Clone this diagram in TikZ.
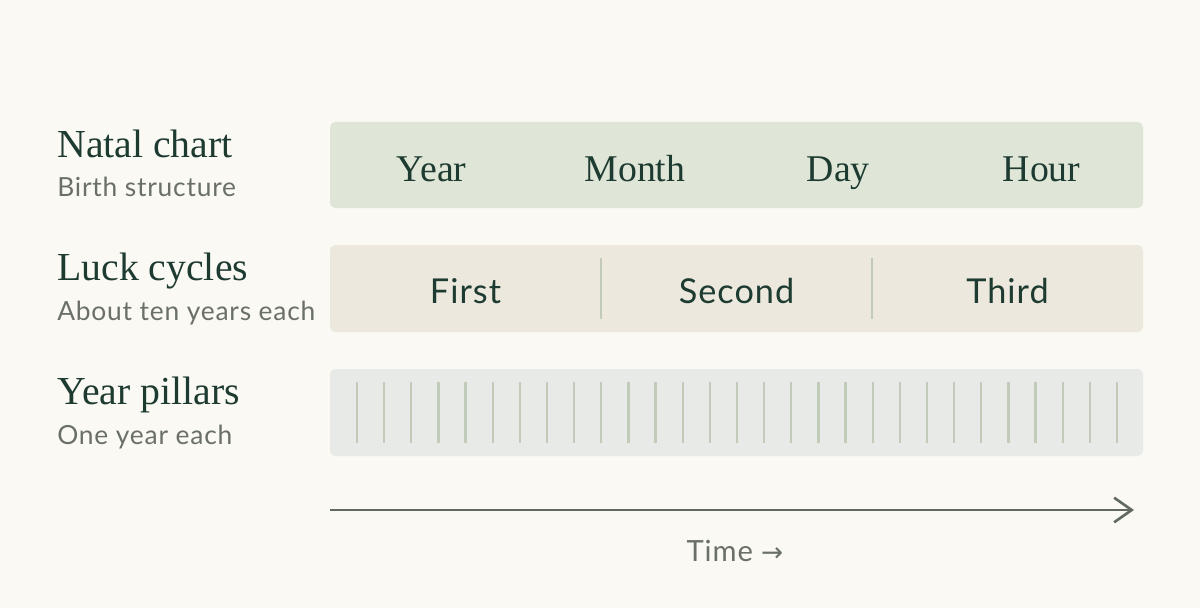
\documentclass[tikz,border=0pt]{standalone}
\usepackage{fontspec}
\setmainfont{Liberation Serif}
\setsansfont[LetterSpace=3]{Lato}
\newfontfamily\arrowfont{DejaVu Sans}
\usetikzlibrary{arrows.meta}

\definecolor{bgcol}{HTML}{FAF9F4}
\definecolor{natalcol}{HTML}{DFE5D7}
\definecolor{luckcol}{HTML}{ECE8DD}
\definecolor{pillarcol}{HTML}{E8EAE7}
\definecolor{tickcol}{HTML}{C2CBBA}
\definecolor{titlecol}{HTML}{1E3B31}
\definecolor{subcol}{HTML}{6A7068}
\definecolor{timecol}{HTML}{626A60}

\tikzset{
  rowtitle/.style={anchor=base west, inner sep=0pt, text=titlecol, font=\fontsize{22.6}{26}\selectfont},
  rowsub/.style={anchor=base west, inner sep=0pt, text=subcol, font=\sffamily\fontsize{15}{18}\selectfont},
  band/.style={rounded corners=3pt},
  natallabel/.style={anchor=base, inner sep=0pt, text=titlecol, font=\fontsize{21.5}{24}\selectfont},
  lucklabel/.style={anchor=base, inner sep=0pt, text=titlecol, font=\sffamily\fontsize{19.5}{24}\selectfont},
  divider/.style={draw=tickcol, line width=1.3pt},
}

\begin{document}
\begin{tikzpicture}[x=0.02cm, y=-0.02cm]
\fill[bgcol] (0,0) rectangle (1200,608);

% row titles
\node[rowtitle] (nataltitle) at (57,157) {Natal chart};
\node[rowsub] (natalsub) at (57,196) {Birth structure};
\node[rowtitle] (lucktitle) at (57,280) {Luck cycles};
\node[rowsub] (lucksub) at (57,320) {About ten years each};
\node[rowtitle] (pillartitle) at (57,404) {Year pillars};
\node[rowsub] (pillarsub) at (57,444) {One year each};

% natal chart band
\fill[natalcol, band] (330,122) rectangle (1143,208);
\node[natallabel] (year) at (431.6,181) {Year};
\node[natallabel] (month) at (635,181) {Month};
\node[natallabel] (day) at (838.4,181) {Day};
\node[natallabel] (hour) at (1041.6,181) {Hour};

% luck cycles band
\fill[luckcol, band] (330,245) rectangle (1143,332);
\node[lucklabel] (first) at (465.5,303) {First};
\node[lucklabel] (second) at (736.5,303) {Second};
\node[lucklabel] (third) at (1007.5,303) {Third};
\draw[divider] (601,258) -- (601,319);
\draw[divider] (872,258) -- (872,319);

% year pillars band
\fill[pillarcol, band] (330,369) rectangle (1143,456);
\foreach \i in {0,...,28}
  \draw[divider] (357+\i*27.143,382) -- (357+\i*27.143,443);

% time axis
\coordinate (tstart) at (330,510);
\coordinate (tend) at (1134,510);
\draw[timecol, line width=1.5pt, -{Straight Barb[length=10pt, width=14pt, line width=1.5pt]}] (tstart) -- (tend);
\node[anchor=base, inner sep=0pt, text=subcol, font=\sffamily\fontsize{16.6}{20}\selectfont] (timelabel) at (735,561) {Time {\arrowfont\fontsize{15}{18}\selectfont →}};
\end{tikzpicture}
\end{document}
